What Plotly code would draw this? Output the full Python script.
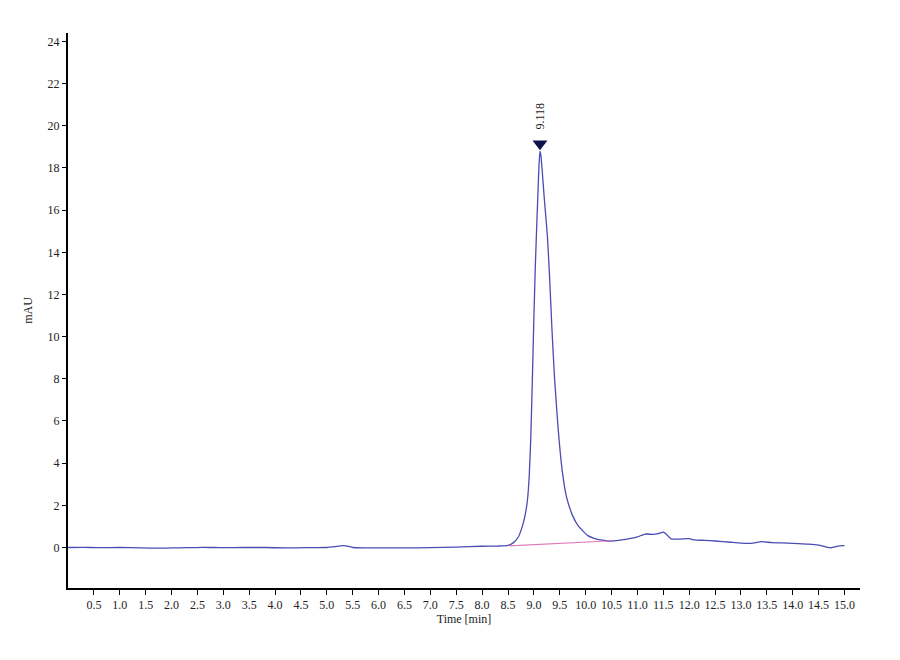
import plotly.graph_objects as go

# chromatogram trace (time in min, signal in mAU)
time_min = [0.0, 0.3, 0.6, 1.0, 1.4, 1.8, 2.0, 2.3, 2.6, 3.0, 3.4, 3.8, 4.2, 4.6,
            5.0, 5.15, 5.3, 5.4, 5.5, 5.7, 6.0, 6.5, 7.0, 7.5, 8.0, 8.3, 8.5,
            8.6, 8.7, 8.75, 8.8, 8.85, 8.88, 8.91, 8.94, 8.97, 9.0, 9.03, 9.06,
            9.08, 9.1, 9.118, 9.135, 9.16, 9.19, 9.22, 9.26, 9.3, 9.35, 9.4,
            9.47, 9.55, 9.63, 9.75, 9.85, 9.94, 10.05, 10.15, 10.26, 10.4,
            10.5, 10.6, 10.8, 11.0, 11.15, 11.3, 11.4, 11.5, 11.55, 11.65,
            11.8, 12.0, 12.1, 12.3, 12.5, 12.8, 13.0, 13.2, 13.4, 13.6, 13.8,
            14.0, 14.3, 14.5, 14.65, 14.75, 14.85, 14.95, 15.0]
signal_mau = [0.0, 0.01, -0.01, 0.0, -0.02, -0.03, -0.02, -0.01, 0.01, -0.01,
              0.0, 0.0, -0.02, -0.01, 0.0, 0.04, 0.09, 0.07, 0.0, -0.02,
              -0.02, -0.02, -0.01, 0.02, 0.06, 0.07, 0.1, 0.22, 0.5, 0.8, 1.2,
              1.8, 2.35, 3.4, 5.2, 7.9, 10.9, 13.5, 15.6, 16.9, 18.2, 18.8,
              18.6, 17.9, 16.9, 16.0, 14.8, 13.0, 10.3, 8.0, 5.6, 3.6, 2.4,
              1.5, 1.05, 0.8, 0.55, 0.45, 0.37, 0.32, 0.31, 0.33, 0.4, 0.5,
              0.64, 0.62, 0.66, 0.73, 0.65, 0.41, 0.4, 0.42, 0.36, 0.34, 0.31,
              0.25, 0.21, 0.2, 0.28, 0.23, 0.22, 0.2, 0.16, 0.11, 0.02, -0.01,
              0.05, 0.09, 0.09]

# integration baseline under the peak
base_time = [8.53, 10.52]
base_mau = [0.08, 0.32]

peak_time = 9.118
peak_height = 18.8

x_ticks = [0.5 * i for i in range(1, 31)]
y_ticks = list(range(0, 25, 2))

font_serif = "Liberation Serif, Times New Roman, serif"

fig = go.Figure()
fig.add_trace(go.Scatter(x=time_min, y=signal_mau, mode="lines",
                         line=dict(color="#4b4bb5", width=1.3,
                                   shape="spline", smoothing=0.5),
                         hoverinfo="skip", showlegend=False))
fig.add_trace(go.Scatter(x=base_time, y=base_mau, mode="lines",
                         line=dict(color="#e07ab8", width=1.2),
                         hoverinfo="skip", showlegend=False))
# peak marker
fig.add_trace(go.Scatter(x=[peak_time], y=[peak_height + 0.35], mode="markers",
                         marker=dict(symbol="triangle-down", size=13,
                                     color="#10124a"),
                         hoverinfo="skip", showlegend=False))
fig.add_annotation(x=peak_time, y=peak_height + 0.95, yanchor="bottom",
                   text="9.118", textangle=-90, showarrow=False,
                   font=dict(family=font_serif, size=12, color="#222"))

# page body adds ~8px offset, so margins are trimmed by that
fig.update_layout(
    width=900, height=660,
    margin=dict(l=60, r=48, t=25, b=80),
    paper_bgcolor="white", plot_bgcolor="white",
    font=dict(family=font_serif, size=12, color="#222"),
    xaxis=dict(range=[0, 15.3], tickvals=x_ticks,
               ticktext=[f"{v:.1f}" for v in x_ticks],
               automargin=False,
               showgrid=False, zeroline=False, showline=True,
               linecolor="black", linewidth=2, ticks="outside",
               ticklen=5, tickcolor="black",
               title=dict(text="Time [min]", standoff=2,
                          font=dict(family=font_serif, size=12))),
    yaxis=dict(range=[-1.92, 24.4], tickvals=y_ticks,
               automargin=False,
               showgrid=False, zeroline=False, showline=True,
               linecolor="black", linewidth=2, ticks="outside",
               ticklen=4, tickcolor="black",
               title=dict(text="mAU", standoff=12,
                          font=dict(family=font_serif, size=12))),
)

fig.write_html("out.html")
